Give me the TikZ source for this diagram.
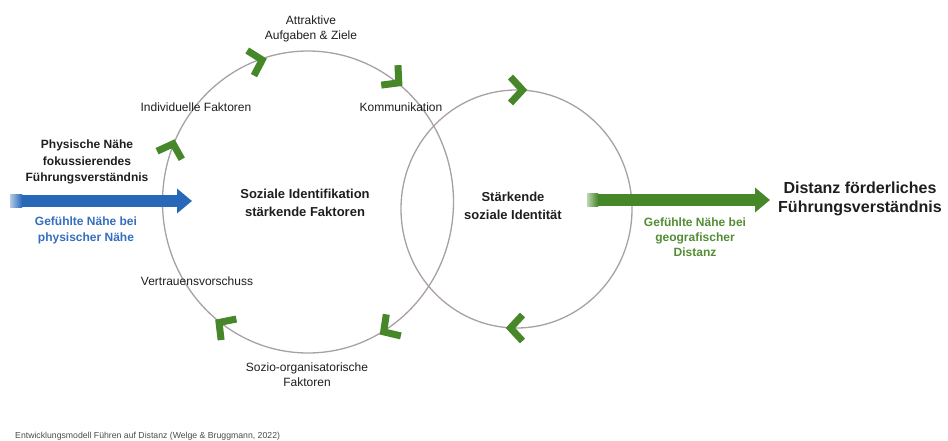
\documentclass[tikz,border=0pt]{standalone}
\usepackage{fontspec}
\setmainfont{Liberation Sans}
\usetikzlibrary{shapes.geometric,arrows.meta}
\definecolor{cgreen}{RGB}{70,135,42}
\definecolor{tgreen}{RGB}{84,140,52}
\definecolor{cblue}{RGB}{40,104,184}
\definecolor{tblue}{RGB}{52,110,190}
\definecolor{ringc}{RGB}{168,160,162}
\definecolor{txt}{RGB}{30,30,30}
\newcommand\mychevron[3]{\draw[chev, shift={(#1,#2)}, rotate=#3] (-6,-13) -- (6,0) -- (-6,13);}
\begin{document}
\begin{tikzpicture}[x=1pt,y=-1pt,
  lbl/.style={font=\fontsize{12}{15}\selectfont, text=txt, align=center, inner sep=0},
  boldlbl/.style={font=\bfseries\fontsize{12}{16.5}\selectfont, text=txt, align=center, inner sep=0},
  biglbl/.style={font=\bfseries\fontsize{13}{18}\selectfont, text=txt, align=center, inner sep=0},
  hugelbl/.style={font=\bfseries\fontsize{16}{18.5}\selectfont, text=txt, align=center, inner sep=0},
  ring/.style={draw=ringc, line width=1.3pt, ellipse, inner sep=0},
  chev/.style={draw=cgreen, line width=7pt, miter limit=10},
  blockarrow/.style={line width=12.5pt, -{Triangle[length=15pt,width=24pt]}}
]
\useasboundingbox (0,0) rectangle (948,441);
% circles
\node[ring, minimum width=291pt, minimum height=302pt] (L) at (308,202) {};
\node[ring, minimum width=231pt, minimum height=238pt] (R) at (516.5,209) {};
% chevrons on left circle
\mychevron{171.3}{149.5}{72}
\mychevron{256.4}{61.5}{15}
\mychevron{394.2}{79}{-40}
\mychevron{388.6}{328.5}{214}
\mychevron{223.9}{326}{144}
% chevrons on right circle
\mychevron{516.5}{90}{0}
\mychevron{516.5}{328}{180}
% blue arrow
\coordinate (bs) at (10,201);
\coordinate (be) at (192,201);
\draw[blockarrow, cblue] (bs) -- (be);
\shade[left color=cblue!35, right color=cblue] (10,194.75) rectangle (22,207.25);
% green arrow
\coordinate (gs) at (587,200);
\coordinate (ge) at (770,200);
\draw[blockarrow, cgreen] (gs) -- (ge);
\shade[left color=cgreen!35, right color=cgreen] (587,193.75) rectangle (598,206.25);
% labels
\node[boldlbl] (phys) at (87,162) {Physische Nähe\\fokussierendes\\Führungsverständnis};
\node[boldlbl, text=tblue, font=\bfseries\fontsize{12}{16}\selectfont] (gnb) at (86,230) {Gefühlte Nähe bei\\physischer Nähe};
\node[lbl] (attr) at (311,29) {Attraktive\\Aufgaben \& Ziele};
\node[lbl] (indiv) at (196,107) {Individuelle Faktoren};
\node[lbl] (komm) at (401,107) {Kommunikation};
\node[lbl] (vert) at (197,281) {Vertrauensvorschuss};
\node[lbl] (sozio) at (307,374.5) {Sozio-organisatorische\\Faktoren};
\node[biglbl] (sif) at (305,203) {Soziale Identifikation\\stärkende Faktoren};
\node[biglbl] (ssi) at (513,206) {Stärkende\\soziale Identität};
\node[boldlbl, text=tgreen, font=\bfseries\fontsize{12}{15}\selectfont] (ggd) at (695,237) {Gefühlte Nähe bei\\geografischer\\Distanz};
\node[hugelbl] (dfv) at (860,199) {Distanz förderliches\\Führungsverständnis};
\node[anchor=base west, inner sep=0, font=\fontsize{8.7}{10}\selectfont, text=txt!80] (cap) at (15,438) {Entwicklungsmodell Führen auf Distanz (Welge \& Bruggmann, 2022)};
\end{tikzpicture}
\end{document}
